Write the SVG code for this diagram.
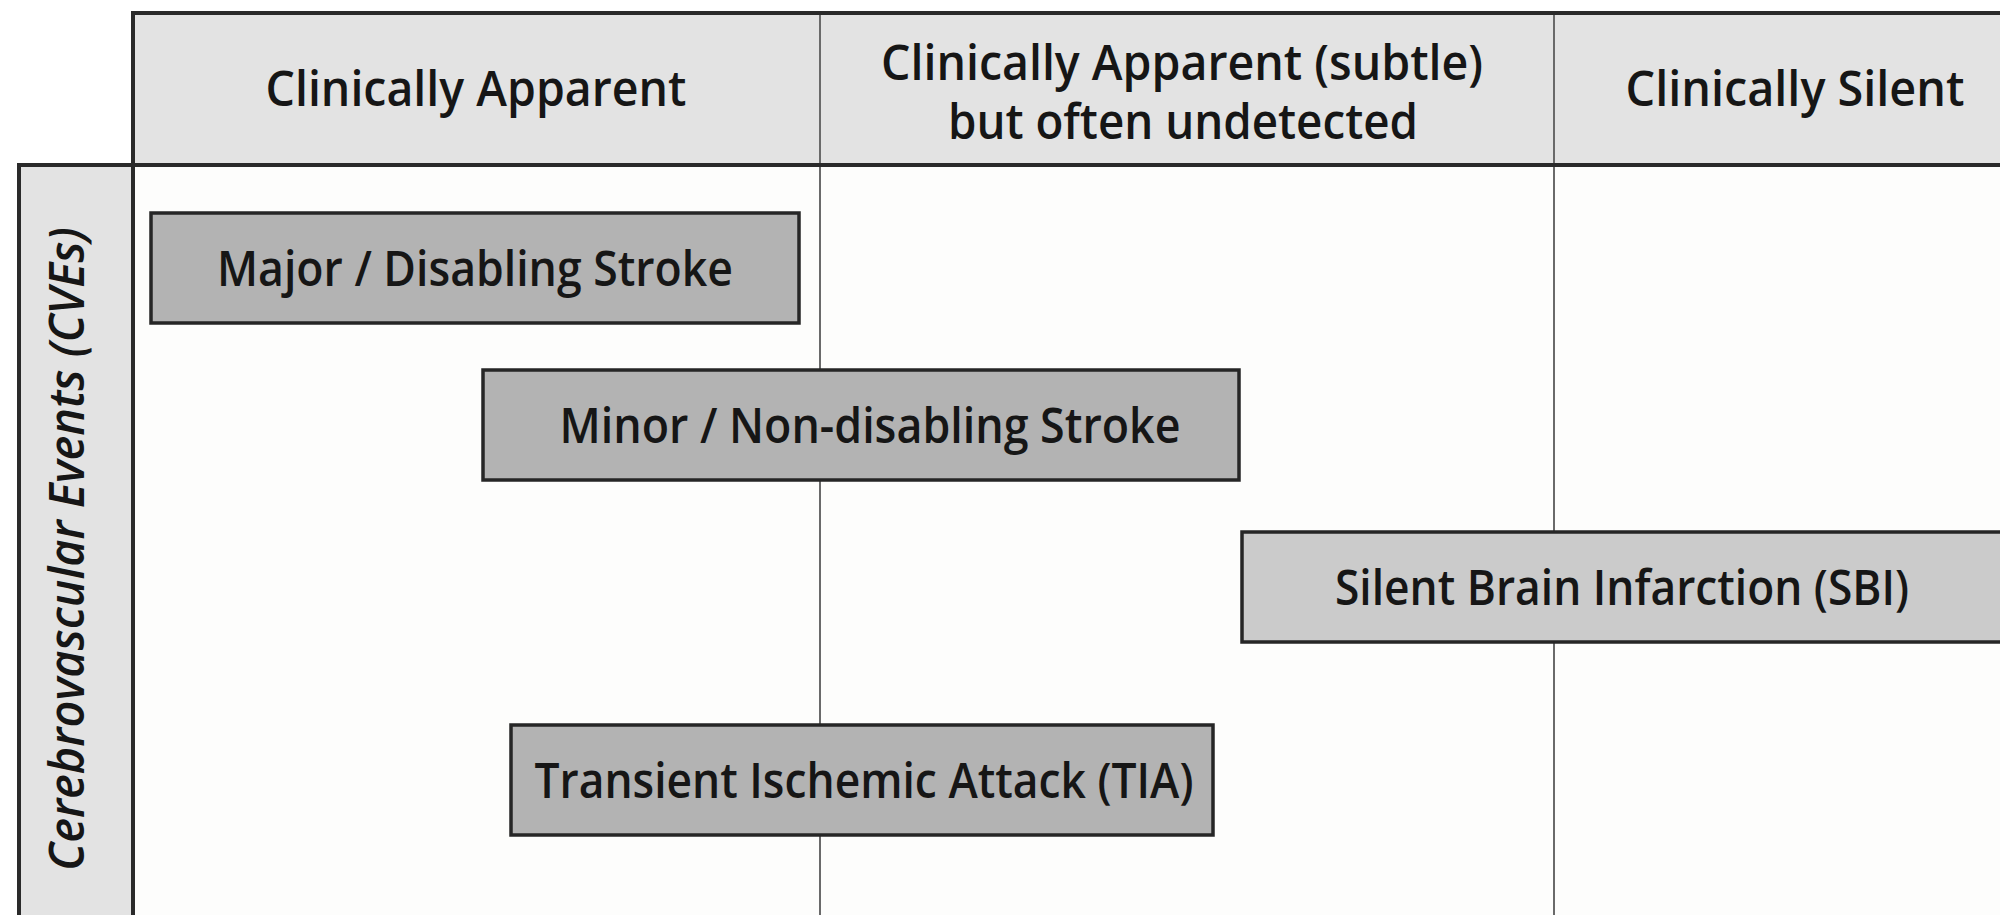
<svg xmlns="http://www.w3.org/2000/svg" width="2000" height="915" viewBox="0 0 2000 915">
<style>
.t{font-family:"Open Sans","Liberation Sans",sans-serif;font-weight:600;font-size:48px;fill:#161616;text-anchor:middle}
.box{stroke:#262626;stroke-width:3.5}
.dark{fill:#b3b3b3}
.light{fill:#cbcbcb}
.grid{stroke:#6a6a6a;stroke-width:2;fill:none}
.frame{stroke:#2a2a2a;stroke-width:4;fill:none}
</style>
<rect x="0" y="0" width="2000" height="915" fill="#ffffff"/>
<rect x="133" y="165" width="1867" height="750" fill="#fdfdfc"/>
<g id="header">
<rect x="133" y="13" width="1870" height="152" fill="#e3e3e3"/>
</g>
<g id="sidebar">
<rect x="19" y="165" width="114" height="755" fill="#e3e3e3"/>
</g>
<g id="connectors">
<line class="grid" x1="820" y1="13" x2="820" y2="915"/>
<line class="grid" x1="1554" y1="13" x2="1554" y2="915"/>
<path class="frame" d="M2002 13 H133 V915"/>
<path class="frame" d="M2002 165 H19 V915"/>
</g>
<g id="col1"><text class="t" x="476" y="106" textLength="421" lengthAdjust="spacingAndGlyphs">Clinically Apparent</text></g>
<g id="col2"><text class="t" x="1182" y="80" textLength="602" lengthAdjust="spacingAndGlyphs">Clinically Apparent (subtle)</text>
<text class="t" x="1183" y="139" textLength="470" lengthAdjust="spacingAndGlyphs">but often undetected</text></g>
<g id="col3"><text class="t" x="1795" y="106" textLength="339" lengthAdjust="spacingAndGlyphs">Clinically Silent</text></g>
<g id="rowlabel"><text class="t" transform="translate(84 549) rotate(-90)" x="0" y="0" font-style="italic" textLength="644" lengthAdjust="spacingAndGlyphs">Cerebrovascular Events (CVEs)</text></g>
<g id="major">
<rect class="box dark" x="151" y="213" width="648" height="110"/>
<text class="t" x="475" y="286" textLength="516" lengthAdjust="spacingAndGlyphs">Major / Disabling Stroke</text>
</g>
<g id="minor">
<rect class="box dark" x="483" y="370" width="756" height="110"/>
<text class="t" x="870" y="443" textLength="621" lengthAdjust="spacingAndGlyphs">Minor / Non-disabling Stroke</text>
</g>
<g id="sbi">
<rect class="box light" x="1242" y="532" width="770" height="110"/>
<text class="t" x="1622" y="605" textLength="574" lengthAdjust="spacingAndGlyphs">Silent Brain Infarction (SBI)</text>
</g>
<g id="tia">
<rect class="box dark" x="511" y="725" width="702" height="110"/>
<text class="t" x="864" y="798" textLength="659" lengthAdjust="spacingAndGlyphs">Transient Ischemic Attack (TIA)</text>
</g>
</svg>
